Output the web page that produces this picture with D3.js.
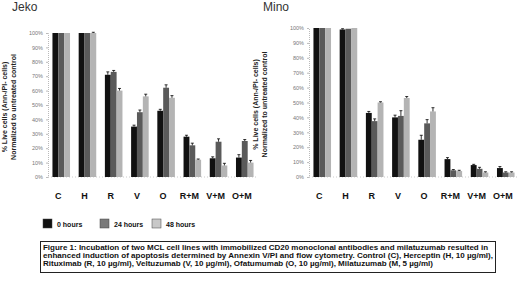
<!DOCTYPE html>
<html>
<head>
<meta charset="utf-8">
<script src="https://cdn.jsdelivr.net/npm/d3@7"></script>
<style>
  body { margin: 0; background: #fff; }
  svg { display: block; font-family: "Liberation Sans", Arial, sans-serif; }
</style>
</head>
<body>
<div id="chart"></div>
<script>
// data
const categories = ['C', 'H', 'R', 'V', 'O', 'R+M', 'V+M', 'O+M'];
const seriesNames = ['0 hours', '24 hours', '48 hours'];
const yTicks = [0, 10, 20, 30, 40, 50, 60, 70, 80, 90, 100];

const jeko0h  = [100, 100, 71, 35, 46, 28, 13, 13.5];
const jeko24h = [100, 100, 73, 45, 62, 22, 24.5, 25];
const jeko48h = [100, 100, 60, 56, 55, 12, 8, 10];
const jekoErr0h  = [0, 0, 2, 1, 1, 1, 1, 2];
const jekoErr24h = [0, 0, 1, 1.5, 2, 1.5, 2, 1];
const jekoErr48h = [0, 0.5, 1.5, 1.5, 1.5, 0.5, 1.5, 1.5];

const mino0h  = [100, 99, 43, 40, 25, 12, 8, 6];
const mino24h = [100, 99.5, 37.5, 41, 36, 4.5, 5.5, 3];
const mino48h = [100, 100, 50, 53, 44, 4, 3, 3];
const minoErr0h  = [0, 0.5, 1, 1.5, 3, 1, 0.5, 1];
const minoErr24h = [0, 0, 1.5, 3.5, 2.5, 0.5, 1, 0.5];
const minoErr48h = [0, 0, 0.5, 1, 2.5, 0.5, 0.5, 0.5];

const captionLines = [
  'Figure 1: Incubation of two MCL cell lines with immobilized CD20 monoclonal antibodies and milatuzumab resulted in',
  'enhanced induction of apoptosis determined by Annexin V/PI and flow cytometry.  Control (C), Herceptin (H, 10 \u00b5g/ml),',
  'Rituximab (R, 10 \u00b5g/ml), Veltuzumab (V, 10 \u00b5g/ml),  Ofatumumab (O, 10 \u00b5g/ml), Milatuzumab (M, 5 \u00b5g/ml)'
];

const fills = ['#111111', '#5a5a5a', '#b4b4b4'];
const legendFills = ['#111111', '#7a7a7a', '#c8c8c8'];

const svg = d3.select('#chart').append('svg')
  .attr('width', 520)
  .attr('height', 281);

function drawPanel(opts) {
  const g = svg.append('g');
  const x = d3.scaleBand().domain(categories).range([opts.x0, opts.x1]).paddingInner(0.33).paddingOuter(0.17);
  const xs = d3.scaleBand().domain(seriesNames).range([0, x.bandwidth()]);
  const y = d3.scaleLinear().domain([0, 100]).range([opts.yBottom, opts.yTop]);

  // title
  g.append('text')
    .attr('x', opts.titleX).attr('y', 11)
    .style('font-size', '12px').style('fill', '#333')
    .text(opts.title);

  // y axis
  const yAxis = g.append('g')
    .attr('transform', `translate(${opts.x0},0)`)
    .call(d3.axisLeft(y).tickValues(yTicks).tickSize(2).tickFormat(d => d + '%'));
  yAxis.select('.domain').attr('stroke', '#bbb').attr('stroke-dasharray', '1,1');
  yAxis.selectAll('.tick line').attr('stroke', '#bbb');
  yAxis.selectAll('.tick text').attr('x', -5).style('font-size', '5.5px').style('fill', '#777');

  // baseline
  g.append('line')
    .attr('x1', opts.x0).attr('x2', opts.x1)
    .attr('y1', y(0)).attr('y2', y(0))
    .attr('stroke', '#ccc').attr('stroke-dasharray', '1,2');

  // y title
  const cy = (opts.yTop + opts.yBottom) / 2 + 2;
  ['% Live cells (Ann-/PI- cells)', 'Normalized to untreated control'].forEach((t, i) => {
    g.append('text')
      .attr('transform', `translate(${opts.titleX - 5 + i * 8.5},${cy}) rotate(-90)`)
      .attr('text-anchor', 'middle')
      .style('font-size', '7px').style('font-weight', 'bold').style('fill', '#222')
      .text(t);
  });

  // bars
  opts.series.forEach((vals, si) => {
    g.selectAll('.bar' + si)
      .data(categories)
      .enter().append('rect')
      .attr('x', d => x(d) + xs(seriesNames[si]))
      .attr('y', (d, i) => y(vals[i]))
      .attr('width', xs.bandwidth())
      .attr('height', (d, i) => y(0) - y(vals[i]))
      .attr('fill', fills[si]);

    // error bars
    const errs = opts.errors[si];
    categories.forEach((c, i) => {
      if (!errs[i]) return;
      const cx = x(c) + xs(seriesNames[si]) + xs.bandwidth() / 2;
      const top = y(vals[i] + errs[i]);
      g.append('line')
        .attr('x1', cx).attr('x2', cx)
        .attr('y1', y(vals[i])).attr('y2', top)
        .attr('stroke', '#000').attr('stroke-width', 0.8);
      g.append('line')
        .attr('x1', cx - 1.5).attr('x2', cx + 1.5)
        .attr('y1', top).attr('y2', top)
        .attr('stroke', '#000').attr('stroke-width', 0.8);
    });
  });

  // category labels
  g.selectAll('.cat')
    .data(categories)
    .enter().append('text')
    .attr('x', d => x(d) + x.bandwidth() / 2 - 3)
    .attr('y', 199)
    .attr('text-anchor', 'middle')
    .style('font-size', '9px').style('font-weight', 'bold').style('fill', '#111')
    .text(d => d);
}

drawPanel({
  title: 'Jeko', titleX: 12,
  x0: 48, x1: 258, yTop: 33, yBottom: 177,
  series: [jeko0h, jeko24h, jeko48h],
  errors: [jekoErr0h, jekoErr24h, jekoErr48h]
});

drawPanel({
  title: 'Mino', titleX: 263,
  x0: 309, x1: 519, yTop: 28, yBottom: 177,
  series: [mino0h, mino24h, mino48h],
  errors: [minoErr0h, minoErr24h, minoErr48h]
});

// legend
const legendX = [43, 100, 152];
const legend = svg.selectAll('.legend')
  .data(seriesNames)
  .enter().append('g')
  .attr('transform', (d, i) => `translate(${legendX[i]},219)`);
legend.append('rect')
  .attr('width', 9).attr('height', 9)
  .attr('fill', (d, i) => legendFills[i])
  .attr('stroke', '#444').attr('stroke-width', 0.5);
legend.append('text')
  .attr('x', 14).attr('y', 7.5)
  .style('font-size', '7px').style('font-weight', 'bold').style('fill', '#111')
  .text(d => d);

// caption box
svg.append('rect')
  .attr('x', 40.5).attr('y', 241.5)
  .attr('width', 455).attr('height', 31)
  .attr('fill', '#fff').attr('stroke', '#222').attr('stroke-width', 1);
const capWidths = [445, 450, 390];
captionLines.forEach((t, i) => {
  svg.append('text')
    .attr('x', 43).attr('y', 250 + i * 8)
    .attr('textLength', capWidths[i]).attr('lengthAdjust', 'spacingAndGlyphs')
    .style('font-size', '6.8px').style('font-weight', 'bold').style('fill', '#111')
    .text(t);
});
</script>
</body>
</html>
